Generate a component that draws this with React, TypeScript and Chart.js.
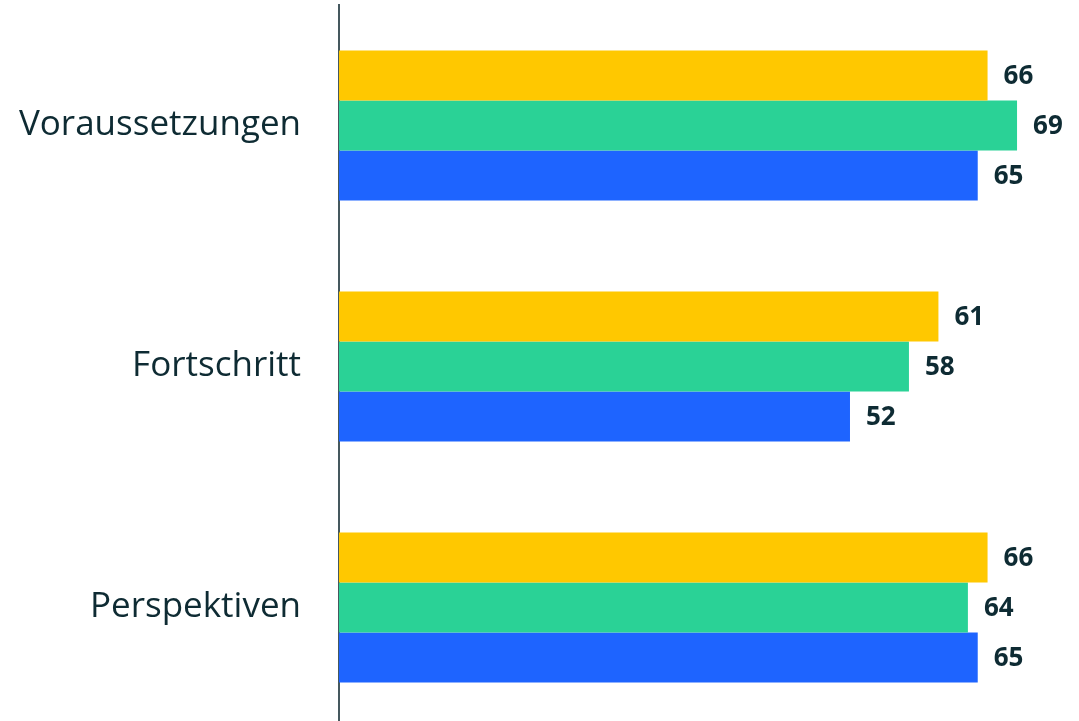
import React, { useEffect, useRef } from "react";
import { Chart, registerables } from "chart.js";

Chart.register(...registerables);

const categories = ["Voraussetzungen", "Fortschritt", "Perspektiven"];
const seriesYellow = [66, 61, 66];
const seriesGreen = [69, 58, 64];
const seriesBlue = [65, 52, 65];
const colors = ["#FFC800", "#2AD296", "#1E64FF"];

const valueLabels = {
  id: "valueLabels",
  afterDatasetsDraw(chart: any) {
    const ctx = chart.ctx;
    ctx.save();
    ctx.font = "bold 26px 'Open Sans'";
    ctx.fillStyle = "#0E2B33";
    ctx.textAlign = "left";
    ctx.textBaseline = "middle";
    chart.data.datasets.forEach((ds: any, i: number) => {
      const meta = chart.getDatasetMeta(i);
      meta.data.forEach((bar: any, j: number) => {
        ctx.fillText(String(ds.data[j]), bar.x + 16, bar.y + 1);
      });
    });
    ctx.restore();
  },
};

export default function App() {
  const ref = useRef<HTMLCanvasElement>(null);
  useEffect(() => {
    if (!ref.current) return;
    const chart = new Chart(ref.current, {
      type: "bar",
      data: {
        labels: categories,
        datasets: [
          { data: seriesYellow, backgroundColor: colors[0] },
          { data: seriesGreen, backgroundColor: colors[1] },
          { data: seriesBlue, backgroundColor: colors[2] },
        ],
      },
      options: {
        indexAxis: "y",
        animation: false,
        responsive: true,
        maintainAspectRatio: false,
        layout: { padding: { top: 5, right: 3, bottom: 0, left: 0 } },
        datasets: {
          bar: { categoryPercentage: 0.622, barPercentage: 1 },
        },
        plugins: {
          legend: { display: false },
          tooltip: { enabled: false },
        },
        scales: {
          x: {
            display: false,
            min: 0,
            max: 75,
          },
          y: {
            grid: { display: false, drawTicks: false },
            border: { display: true, color: "#45585E", width: 2 },
            ticks: {
              padding: 38,
              color: "#0E2B33",
              font: { family: "'Open Sans'", size: 35 },
            },
            afterFit(scale: any) {
              scale.width = 339;
              scale.paddingTop = 0;
              scale.paddingBottom = 0;
            },
          },
        },
      },
      plugins: [valueLabels],
    });
    return () => chart.destroy();
  }, []);
  return (
    <div style={{ position: "absolute", left: 0, top: 0, width: 1079, height: 728 }}>
      <canvas ref={ref} />
    </div>
  );
}
